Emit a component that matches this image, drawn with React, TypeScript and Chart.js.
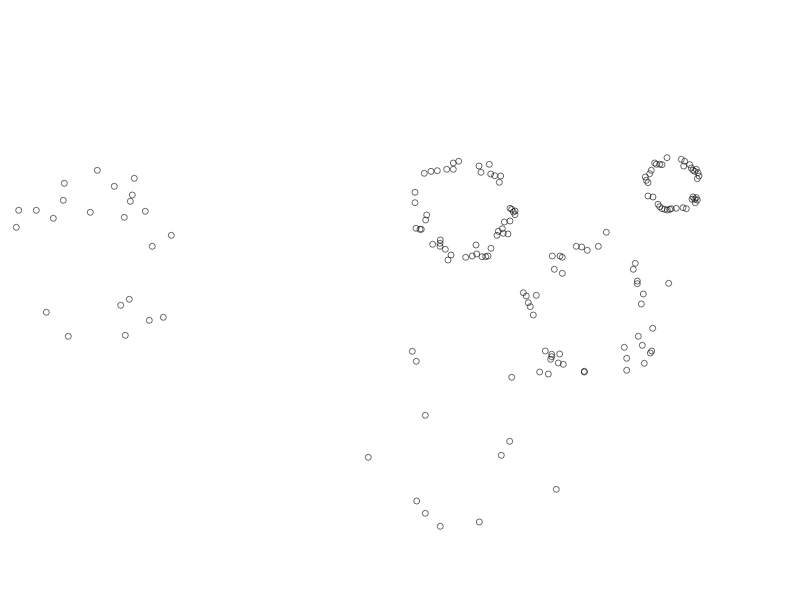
import React, { useEffect, useRef } from "react";
import { Chart, registerables } from "chart.js";

Chart.register(...registerables);

// Left cluster
const leftX = [97.3, 64.3, 134.3, 114.3, 132.3, 63.3, 130.3, 18.7, 36.3, 90.3, 145.3, 53.3, 124.3, 16.3, 171.3, 152.3, 129.3, 120.7, 46.3, 163.3, 149.3, 68.3, 125.3];
const leftY = [170.3, 183.3, 178.3, 186.3, 195, 200.3, 201.3, 210.3, 210.3, 212.3, 211.3, 218.3, 217.3, 227.3, 235.3, 246.3, 299.3, 305.3, 312.3, 317.3, 320.3, 336.3, 335.3];

// Middle ring
const ringAX = [458.7, 453.3, 489.3, 479, 446.7, 453.3, 437.3, 431, 424.3, 481, 490.7, 494.7, 500.7, 499.3, 415, 415, 510, 511.7, 515, 513.3, 515, 426.7, 425.7, 510, 504.3, 416, 420, 421.3, 502.3, 498.3, 503.3, 508, 497, 440.3, 440, 432.7, 440, 445.3, 476, 491, 451, 448, 465.7, 472.3, 476.7, 482, 485.7, 488];
const ringAY = [161.3, 163, 164.3, 166, 169.3, 169.3, 170.7, 171.3, 173.3, 172.3, 174, 175.7, 176, 182.3, 192.3, 202.7, 208.3, 209.3, 211, 212, 214.7, 215, 220, 221, 222, 228.3, 229.3, 229.3, 228.7, 231.3, 233.3, 234, 235.3, 240, 243.3, 244.3, 246.3, 249.3, 245, 248.3, 255, 260, 257.3, 256, 254, 256.7, 256.7, 256];

// Right ring
const ringBX = [667, 681.3, 684.7, 654.7, 656.3, 659.7, 662, 683.7, 689.7, 691.3, 693, 694.7, 696.3, 698, 699, 697.3, 651.3, 649.7, 645.3, 646.3, 648, 648, 653, 658, 659.7, 662, 664.7, 667.3, 669.7, 671.3, 676.3, 683, 686.3, 693, 694.7, 696.3, 697.3, 695.3, 692];
const ringBY = [157.7, 159.3, 161.3, 163, 164.3, 164.3, 164.7, 166, 164.7, 168, 170.3, 171.3, 169.3, 172.7, 176, 178.7, 170.3, 173.7, 177, 180.3, 182.7, 196, 197, 204.3, 206.7, 208.7, 209.3, 210, 209.3, 208.7, 208.3, 207.7, 208.7, 197, 199.3, 197.7, 200, 202.7, 199.3];

// Middle scattered
const midX = [606.3, 576.3, 581.7, 587.3, 598.3, 552.3, 560, 562.3, 635.3, 633.3, 554.3, 562.3, 637.3, 637.3, 668.7, 643.3, 641.3, 523.3, 526.3, 536.3, 528.3, 530.3, 533.3, 652.7, 638.3, 642.3, 624.3, 651.7, 650.3, 626.7, 644.3, 626.7, 412.3, 416.3, 545.3, 551.7, 551.7, 550.7, 559.7, 558.3, 563.3, 584.3, 584.3, 539.7, 548.3, 511.7];
const midY = [232.3, 246.3, 247, 250.3, 246.3, 256, 256, 257.3, 263.3, 269.3, 269.3, 273.3, 281, 283.7, 283.3, 294, 304, 292.7, 296, 295.3, 302.7, 306.7, 315, 328.3, 336.3, 345.3, 347.3, 351, 353, 358.3, 363.3, 370.3, 351.3, 361.3, 351, 354.3, 356.7, 359.3, 354, 363, 364.3, 371.3, 372, 372, 374, 377.3];

// Bottom scattered
const lowX = [425.3, 509.7, 501.3, 368.3, 556.3, 416.7, 425.3, 479.3, 440.3];
const lowY = [415.3, 441.3, 455.3, 457.3, 489.3, 501, 513.3, 522, 526.3];

const groups = [
  [leftX, leftY],
  [ringAX, ringAY],
  [ringBX, ringBY],
  [midX, midY],
  [lowX, lowY],
];

export default function App() {
  const ref = useRef<HTMLCanvasElement | null>(null);
  useEffect(() => {
    document.body.style.margin = "0";
    const ctx = ref.current!;
    const chart = new Chart(ctx, {
      type: "scatter",
      data: {
        datasets: groups.map(([xs, ys]) => ({
          data: xs.map((x, i) => ({ x, y: ys[i] })),
          pointRadius: 3,
          pointBorderWidth: 0.6,
          borderColor: "#000000",
          backgroundColor: "rgba(0,0,0,0)",
          pointHoverRadius: 3,
        })),
      },
      options: {
        animation: false,
        responsive: false,
        maintainAspectRatio: false,
        layout: { padding: 0, autoPadding: false },
        plugins: { legend: { display: false }, tooltip: { enabled: false } },
        scales: {
          x: { type: "linear", min: 0, max: 800, display: false },
          y: { type: "linear", min: 0, max: 600, reverse: true, display: false },
        },
      },
    });
    return () => chart.destroy();
  }, []);
  return (
    <div style={{ position: "fixed", left: 0, top: 0, width: 800, height: 600, background: "#fff" }}>
      <canvas ref={ref} width={800} height={600} style={{ width: 800, height: 600 }} />
    </div>
  );
}
